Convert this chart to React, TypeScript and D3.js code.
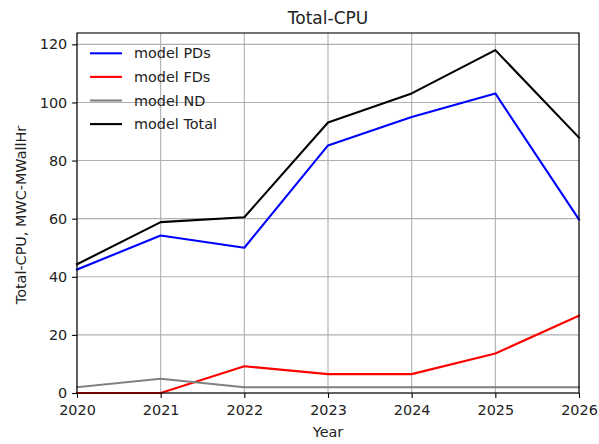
import React, { useEffect, useRef } from 'react'
import * as d3 from 'd3'

const years: number[] = [2020, 2021, 2022, 2023, 2024, 2025, 2026]
const pds: number[] = [42.5, 54.2, 50.0, 85.2, 95.0, 103.1, 59.7]
const fds: number[] = [0, 0, 9.2, 6.5, 6.5, 13.6, 26.6]
const nd: number[] = [2.0, 4.9, 2.0, 2.0, 2.0, 2.0, 2.0]
const total: number[] = [44.3, 58.8, 60.5, 93.1, 103.1, 118.0, 87.9]
const yTicks: number[] = [0, 20, 40, 60, 80, 100, 120]

const series = [
  { name: 'model PDs', values: pds, color: '#0000ff' },
  { name: 'model FDs', values: fds, color: '#ff0000' },
  { name: 'model ND', values: nd, color: '#808080' },
  { name: 'model Total', values: total, color: '#000000' },
]

export default function App() {
  const svgRef = useRef<SVGSVGElement | null>(null)
  const W = 599
  const H = 444
  const margin = { top: 33, right: 20, bottom: 51, left: 77 }

  useEffect(() => {
    const svg = d3.select(svgRef.current)
    svg.selectAll('*').remove()
    const width = W - margin.left - margin.right
    const height = H - margin.top - margin.bottom
    const font = 'DejaVu Sans, sans-serif'

    const x = d3.scaleLinear().domain([2020, 2026]).range([0, width])
    const y = d3.scaleLinear().domain([0, 123.9]).range([height, 0])

    const g = svg.append('g').attr('transform', `translate(${margin.left}, ${margin.top})`)

    // grid
    g.append('g')
      .selectAll('line')
      .data(years)
      .join('line')
      .attr('x1', (d) => x(d))
      .attr('x2', (d) => x(d))
      .attr('y1', 0)
      .attr('y2', height)
      .attr('stroke', '#b0b0b0')
      .attr('stroke-width', 1.1)
    g.append('g')
      .selectAll('line')
      .data(yTicks)
      .join('line')
      .attr('x1', 0)
      .attr('x2', width)
      .attr('y1', (d) => y(d))
      .attr('y2', (d) => y(d))
      .attr('stroke', '#b0b0b0')
      .attr('stroke-width', 1.1)

    // lines
    const line = d3
      .line<number>()
      .x((_, i) => x(years[i]))
      .y((d) => y(d))
    g.append('g')
      .selectAll('path')
      .data(series)
      .join('path')
      .attr('d', (s) => line(s.values))
      .attr('fill', 'none')
      .attr('stroke', (s) => s.color)
      .attr('stroke-width', 2.1)
      .attr('stroke-linejoin', 'round')
      .attr('stroke-linecap', 'square')

    // axes
    const xAxis = d3
      .axisBottom(x)
      .tickValues(years)
      .tickFormat(d3.format('d'))
      .tickSize(4.9)
      .tickPadding(6.5)
    const yAxis = d3.axisLeft(y).tickValues(yTicks).tickSize(4.9).tickPadding(4.9)

    const gx = g.append('g').attr('transform', `translate(0, ${height})`).call(xAxis)
    const gy = g.append('g').call(yAxis)
    for (const ax of [gx, gy]) {
      ax.select('.domain').remove()
      ax.selectAll('line').attr('stroke', '#000').attr('stroke-width', 1.1)
      ax.selectAll('text').attr('font-family', font).attr('font-size', 14.4).attr('fill', '#222')
    }

    // frame
    g.append('rect')
      .attr('x', 0)
      .attr('y', 0)
      .attr('width', width)
      .attr('height', height)
      .attr('fill', 'none')
      .attr('stroke', '#000')
      .attr('stroke-width', 1.1)

    // legend
    const leg = g.append('g').attr('transform', 'translate(13, 20.3)')
    series.forEach((s, i) => {
      const row = leg.append('g').attr('transform', `translate(0, ${i * 23.6})`)
      row.append('line')
        .attr('x1', 0)
        .attr('x2', 32)
        .attr('stroke', s.color)
        .attr('stroke-width', 2.1)
      row.append('text')
        .attr('x', 44)
        .attr('y', 5)
        .attr('font-family', font)
        .attr('font-size', 14.4)
        .attr('fill', '#222')
        .text(s.name)
    })

    // titles
    svg.append('text')
      .attr('x', margin.left + width / 2)
      .attr('y', 24)
      .attr('text-anchor', 'middle')
      .attr('font-family', font)
      .attr('font-size', 17)
      .attr('fill', '#222')
      .text('Total-CPU')
    svg.append('text')
      .attr('x', margin.left + width / 2)
      .attr('y', 437)
      .attr('text-anchor', 'middle')
      .attr('font-family', font)
      .attr('font-size', 14.4)
      .attr('fill', '#222')
      .text('Year')
    svg.append('text')
      .attr('transform', `translate(26, ${margin.top + height / 2 + 2}) rotate(-90)`)
      .attr('text-anchor', 'middle')
      .attr('font-family', font)
      .attr('font-size', 14.4)
      .attr('fill', '#222')
      .text('Total-CPU, MWC-MWallHr')
  }, [])

  return (
    <svg
      ref={svgRef}
      width={W}
      height={H}
      style={{ position: 'absolute', left: 0, top: 0, background: '#fff' }}
    />
  )
}
